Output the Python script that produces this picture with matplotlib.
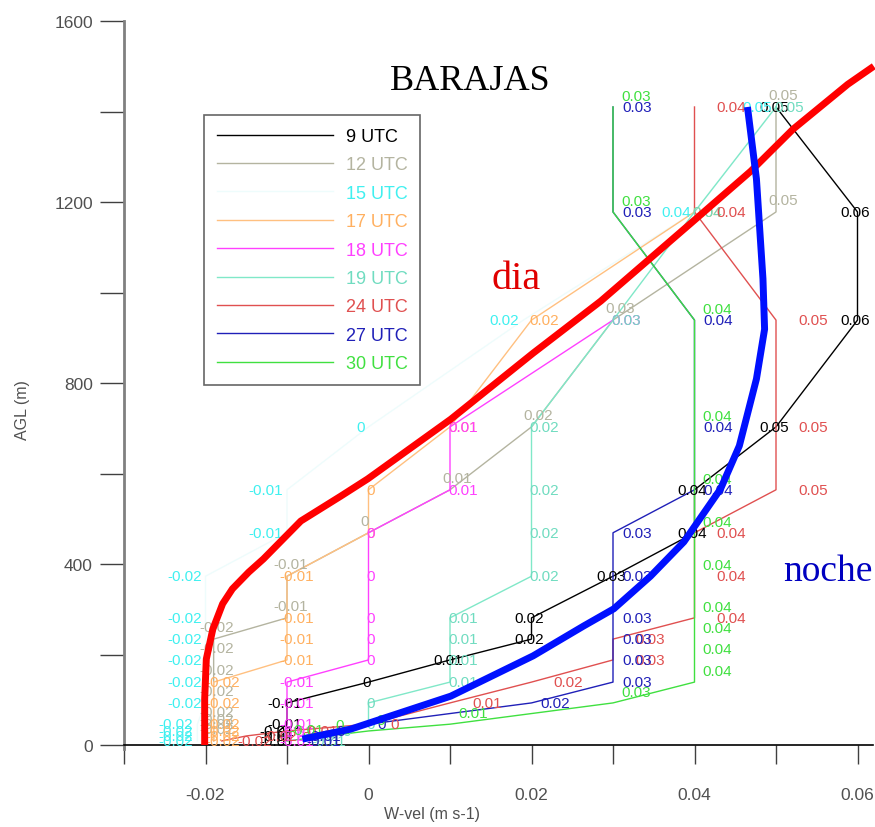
import numpy as np
import matplotlib
matplotlib.use("Agg")
import matplotlib.pyplot as plt

# ---------------- data ----------------
levels = [9, 20, 31, 46, 93, 139, 188, 234, 281, 373, 469, 564, 703, 939, 1178, 1410]

series_names = ["9 UTC", "12 UTC", "15 UTC", "17 UTC", "18 UTC", "19 UTC", "24 UTC", "27 UTC", "30 UTC"]

w_09 = [-0.011, -0.011, -0.011, -0.010, -0.010, 0.000, 0.010, 0.020, 0.020, 0.030, 0.040, 0.040, 0.050, 0.060, 0.060, 0.050]
w_12 = [-0.019, -0.019, -0.019, -0.019, -0.019, -0.019, -0.019, -0.019, -0.010, -0.010, 0.000, 0.010, 0.020, 0.030, 0.050, 0.050]
w_15 = [-0.021, -0.021, -0.021, -0.021, -0.020, -0.020, -0.020, -0.020, -0.020, -0.020, -0.010, -0.010, 0.000, 0.019, 0.040, 0.050]
w_17 = [-0.019, -0.019, -0.019, -0.019, -0.019, -0.019, -0.010, -0.010, -0.010, -0.010, 0.000, 0.000, 0.010, 0.020, 0.040, np.nan]
w_18 = [-0.010, -0.010, -0.010, -0.010, -0.010, -0.010, 0.000, 0.000, 0.000, 0.000, 0.000, 0.010, 0.010, 0.030, np.nan, np.nan]
w_19 = [-0.006, -0.005, -0.003, 0.000, 0.000, 0.010, 0.010, 0.010, 0.010, 0.020, 0.020, 0.020, 0.020, 0.030, 0.040, 0.050]
w_24 = [-0.018, -0.015, -0.010, 0.000, 0.010, 0.020, 0.030, 0.030, 0.040, 0.040, 0.040, 0.050, 0.050, 0.050, 0.040, 0.040]
w_27 = [-0.008, -0.008, -0.005, 0.000, 0.020, 0.030, 0.030, 0.030, 0.030, 0.030, 0.030, 0.040, 0.040, 0.040, 0.030, 0.030]
w_30 = [-0.010, -0.005, 0.000, 0.010, 0.030, 0.040, 0.040, 0.040, 0.040, 0.040, 0.040, 0.040, 0.040, 0.040, 0.030, 0.030]

# thick mean curves
dia_w = [-0.0201, -0.0201, -0.0199, -0.0191, -0.0179, -0.0167, -0.0147, -0.0129, -0.0083, -0.0034,
         -0.0001, 0.0101, 0.0202, 0.0285, 0.0400, 0.0469, 0.0521, 0.0588, 0.0620]
dia_h = [0, 102, 190, 256, 312, 345, 382, 411, 495, 550, 588, 720, 866, 981, 1160, 1268, 1361, 1460, 1500]

noche_w = [-0.0081, -0.0022, 0.0101, 0.0202, 0.0264, 0.0301, 0.0346, 0.0387, 0.0432, 0.0455,
           0.0476, 0.0486, 0.0484, 0.0476, 0.0465]
noche_h = [13, 35, 108, 197, 263, 301, 373, 449, 566, 661, 809, 919, 1030, 1251, 1410]

x_ticks = [-0.02, 0, 0.02, 0.04, 0.06]
x_ticklabels = ["-0.02", "0", "0.02", "0.04", "0.06"]
y_ticks = [0, 400, 800, 1200, 1600]
y_ticklabels = ["0", "400", "800", "1200", "1600"]

# ---------------- style ----------------
all_w = [w_09, w_12, w_15, w_17, w_18, w_19, w_24, w_27, w_30]
line_colors = ["#000000", "#b4b4a0", "#eefcfc", "#ffc080", "#ff40ff", "#80e8c8", "#e05050", "#2020b8", "#40e040"]
text_colors = ["#000000", "#b4b4a0", "#40f0f0", "#ffb060", "#ff40ff", "#70dcc0", "#e05050", "#2020b8", "#40e040"]
# (dx px, dy px, ha)
label_off = [(-2, 0, "center"), (-8, 12, "left"), (-4, 0, "right"), (-2, 0, "left"), (-2, 0, "left"),
             (-2, 0, "left"), (22, 0, "left"), (9, 0, "left"), (8, 11, "left")]

W, H = 875, 828
fig = plt.figure(figsize=(W / 100, H / 100), dpi=100)
ax = fig.add_axes([124 / W, 1 - 746 / H, (873 - 124) / W, (746 - 22) / H])
ax.set_xlim(-0.03, -0.03 + (873 - 124) / 8150)
ax.set_ylim(0, 1600)

sans = "Liberation Sans"
serif = "Liberation Serif"

def fmt(v):
    r = round(v, 2)
    if abs(r) < 1e-9:
        return "0"
    return f"{r:.2f}"

for w, lc, tc, off, name in zip(all_w, line_colors, text_colors, label_off, series_names):
    w = np.array(w, dtype=float)
    h = np.array(levels, dtype=float)
    m = ~np.isnan(w)
    ax.plot(w[m], h[m], color=lc, lw=1.0, zorder=2, clip_on=False)
    dx, dy, ha = off
    for xv, hv in zip(w[m], h[m]):
        s = fmt(xv)
        ddx = dx - (6 if (s.startswith("-") and ha == "left") else 0)
        ax.annotate(s, (xv, hv), xytext=(ddx, dy), textcoords="offset pixels",
                    ha=ha, va="center", fontsize=11, color=tc, family=sans, zorder=3,
                    annotation_clip=False)

ax.plot(dia_w, dia_h, color="#ff0000", lw=5, solid_capstyle="butt", zorder=5, clip_on=False)
ax.plot(noche_w, noche_h, color="#0010ff", lw=5, solid_capstyle="butt", zorder=5, clip_on=False)

ax.text(0.0125, 1468, "BARAJAS", family=serif, fontsize=26, ha="center", va="center", color="black")
ax.text(0.0181, 1030, "dia", family=serif, fontsize=29, ha="center", va="center", color="#e00000")
ax.text(0.0563, 385, "noche", family=serif, fontsize=27, ha="center", va="center", color="#0000c0")

# legend
handles = []
for lc, name in zip(line_colors, series_names):
    (hnd,) = ax.plot([], [], color=lc, lw=1.0, label=name)
    handles.append(hnd)
leg = ax.legend(handles=handles, loc="upper left",
                bbox_to_anchor=((204 - 124) / (873 - 124), 1 - (116 - 22) / (746 - 22)),
                frameon=True, fancybox=False, handlelength=6.4, handletextpad=0.72, labelspacing=0.63,
                borderpad=0.72, prop={"family": sans, "size": 13}, borderaxespad=0)
leg.get_frame().set_edgecolor("#404040")
leg.get_frame().set_linewidth(1.2)
for txt, tc in zip(leg.get_texts(), text_colors):
    txt.set_color(tc)
leg.set_zorder(4)

# axes styling
for s in ["top", "right"]:
    ax.spines[s].set_visible(False)
ax.spines["left"].set_color("#808080")
ax.spines["left"].set_linewidth(2)
ax.spines["left"].set_bounds(-8, 1600)
ax.spines["bottom"].set_color("black")
ax.spines["bottom"].set_linewidth(1.2)

ax.set_xticks(np.arange(-0.03, 0.0601, 0.01), minor=True)
ax.set_xticks(x_ticks)
ax.set_xticklabels(x_ticklabels)
ax.set_yticks(np.arange(0, 1601, 200), minor=True)
ax.set_yticks(y_ticks)
ax.set_yticklabels(y_ticklabels)
ax.tick_params(axis="x", which="both", direction="out", length=14, width=1, color="#404040",
               labelsize=12.5, labelcolor="#505050", pad=16)
ax.tick_params(axis="y", which="both", direction="out", length=17, width=1, color="#404040",
               labelsize=12.5, labelcolor="#505050", pad=5.5)
for t in ax.get_xticklabels() + ax.get_yticklabels():
    t.set_family(sans)

ax.set_xlabel("W-vel (m s-1)", family=sans, fontsize=11.5, color="#505050")
ax.xaxis.set_label_coords((432 - 124) / (873 - 124), -(815 - 746) / (746 - 22))
ax.xaxis.label.set_va("center")
ax.set_ylabel("AGL (m)", family=sans, fontsize=11.5, color="#505050")
ax.yaxis.set_label_coords((22 - 124) / (873 - 124), (746 - 410) / (746 - 22))
ax.yaxis.label.set_va("center")

fig.savefig("out.png", dpi=100)
